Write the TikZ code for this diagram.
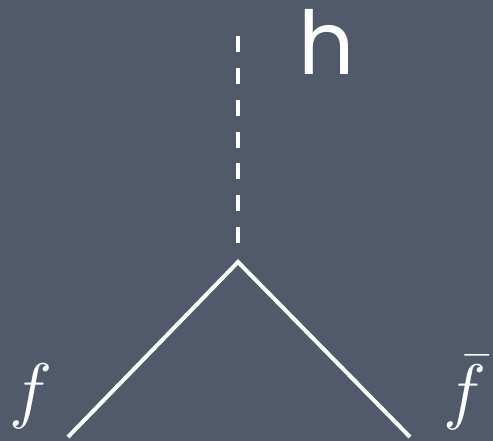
\documentclass[tikz,border=0pt]{standalone}
\usepackage{fontspec}
\newfontfamily\handfont{Poppins}
\usetikzlibrary{positioning}
\definecolor{slate}{RGB}{80,90,106}

\begin{document}
\begin{tikzpicture}[x=0.75pt, y=-0.75pt,
    fermion/.style={draw=white, line width=3pt},
    higgs/.style={draw=white, line width=3pt, dash pattern=on 12pt off 11.9pt},
    lab/.style={text=white, inner sep=0pt},
    mathlab/.style={lab, font=\Huge, scale=2.2}]
    % Background
    \fill[slate] (0,0) rectangle (493,441);
    \useasboundingbox (0,0) rectangle (493,441);

    % Vertex and line ends
    \coordinate (vtx) at (238,262);
    \coordinate (htop) at (238,36);
    \coordinate (fin) at (68,437);
    \coordinate (fbarin) at (410,437);

    % Scalar line
    \draw[higgs] (htop) -- (238,259);

    % Fermion lines
    \draw[fermion] (fin) -- (vtx) -- (fbarin);

    % Labels
    \node[lab, font=\handfont\fontsize{66}{76}\selectfont] (hlab) at (327,42) {h};
    \node[mathlab] (flab) at (31,396) {$f$};
    \node[mathlab] (fbarlab) at (465,393) {$\bar{f}$};
\end{tikzpicture}
\end{document}
